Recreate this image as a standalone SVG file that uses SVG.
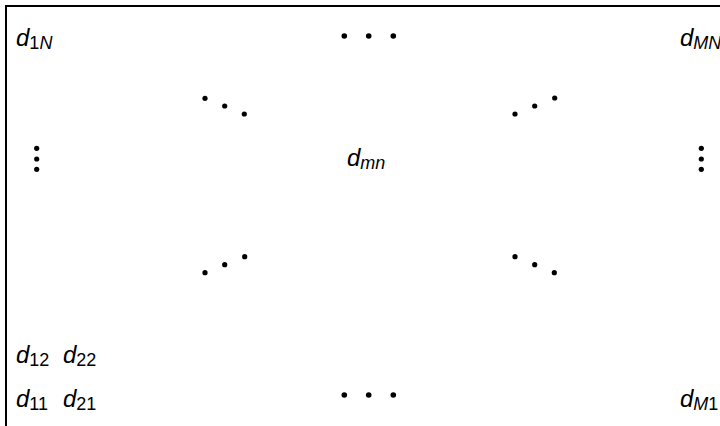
<svg xmlns="http://www.w3.org/2000/svg" width="720" height="426" viewBox="0 0 720 426">
<style>
.t{font-family:"Liberation Sans",Arial,sans-serif;font-size:24px;fill:#000}
.i{font-style:italic}
.s{font-size:18px}
.frame{fill:none;stroke:#000;stroke-width:2}
.dot{fill:#000}
</style>
<rect width="720" height="426" fill="#fff"/>
<g id="frame">
<path class="frame" d="M6,427 V6 H721"/>
</g>
<g id="d1N"><text class="t i" x="16" y="46">d<tspan class="s" dy="3" font-style="normal">1</tspan><tspan class="s" font-style="italic">N</tspan></text></g>
<g id="dMN"><text class="t i" x="680" y="46">d<tspan class="s" dy="3">MN</tspan></text></g>
<g id="dmn"><text class="t i" x="347" y="166">d<tspan class="s" dy="3">mn</tspan></text></g>
<g id="d12"><text class="t i" x="16" y="363">d<tspan class="s" dy="3" font-style="normal">12</tspan></text></g>
<g id="d22"><text class="t i" x="63" y="363">d<tspan class="s" dy="3" font-style="normal">22</tspan></text></g>
<g id="d11"><text class="t i" x="16" y="407">d<tspan class="s" dy="3" font-style="normal">11</tspan></text></g>
<g id="d21"><text class="t i" x="63" y="407">d<tspan class="s" dy="3" font-style="normal">21</tspan></text></g>
<g id="dM1"><text class="t i" x="680" y="407">d<tspan class="s" dy="3">M</tspan><tspan class="s" font-style="normal">1</tspan></text></g>
<g id="dots">
<circle class="dot" cx="344.3" cy="36" r="2.8"/><circle class="dot" cx="368.7" cy="36" r="2.8"/><circle class="dot" cx="393.3" cy="36" r="2.8"/>
<circle class="dot" cx="344.3" cy="395" r="2.8"/><circle class="dot" cx="368.7" cy="395" r="2.8"/><circle class="dot" cx="393.3" cy="395" r="2.8"/>
<circle class="dot" cx="205" cy="98.3" r="2.6"/><circle class="dot" cx="224.7" cy="106" r="2.6"/><circle class="dot" cx="244.3" cy="114" r="2.6"/>
<circle class="dot" cx="515" cy="114" r="2.6"/><circle class="dot" cx="534.7" cy="106" r="2.6"/><circle class="dot" cx="554.7" cy="98" r="2.6"/>
<circle class="dot" cx="205" cy="272.7" r="2.6"/><circle class="dot" cx="224.7" cy="264.7" r="2.6"/><circle class="dot" cx="244.7" cy="256.7" r="2.6"/>
<circle class="dot" cx="515" cy="256.7" r="2.6"/><circle class="dot" cx="534.7" cy="264.7" r="2.6"/><circle class="dot" cx="554.3" cy="272.7" r="2.6"/>
<circle class="dot" cx="36.7" cy="148.3" r="2.6"/><circle class="dot" cx="36.7" cy="159" r="2.6"/><circle class="dot" cx="36.7" cy="169.3" r="2.6"/>
<circle class="dot" cx="701.3" cy="148.3" r="2.6"/><circle class="dot" cx="701.3" cy="159" r="2.6"/><circle class="dot" cx="701.3" cy="169.3" r="2.6"/>
</g>
</svg>
